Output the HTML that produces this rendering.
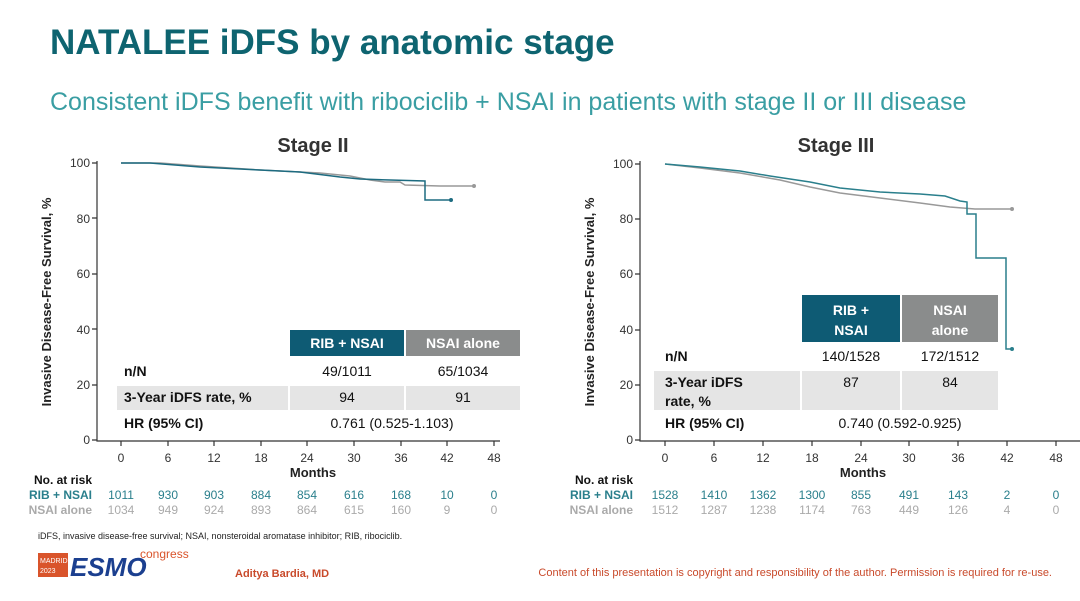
<!DOCTYPE html>
<html><head><meta charset="utf-8"><style>
body{margin:0;width:1080px;height:596px;background:#fff;overflow:hidden;font-family:"Liberation Sans",sans-serif}
</style></head><body>
<svg width="1080" height="596" xmlns="http://www.w3.org/2000/svg" font-family="Liberation Sans, sans-serif">
<text x="50" y="54" font-size="35" font-weight="bold" fill="#0e6470">NATALEE iDFS by anatomic stage</text>
<text x="50" y="110" font-size="25" fill="#3a9ea3">Consistent iDFS benefit with ribociclib + NSAI in patients with stage II or III disease</text>

<!-- LEFT -->
<text x="313" y="152" font-size="20" font-weight="bold" fill="#333" text-anchor="middle">Stage II</text>
<g stroke="#333" stroke-width="1.2" fill="none">
<path d="M97 161 V441 H500"/>
<path d="M92 163H97M92 218H97M92 274H97M92 329H97M92 385H97M92 440H97"/>
<path d="M121 441v5M168 441v5M214 441v5M261 441v5M307 441v5M354 441v5M401 441v5M447 441v5M494 441v5"/>
</g>
<g font-size="12" fill="#333" text-anchor="end">
<text x="90" y="167">100</text><text x="90" y="223">80</text><text x="90" y="278">60</text><text x="90" y="334">40</text><text x="90" y="389">20</text><text x="90" y="444">0</text>
</g>
<g font-size="12" fill="#333" text-anchor="middle">
<text x="121" y="462">0</text><text x="168" y="462">6</text><text x="214" y="462">12</text><text x="261" y="462">18</text><text x="307" y="462">24</text><text x="354" y="462">30</text><text x="401" y="462">36</text><text x="447" y="462">42</text><text x="494" y="462">48</text>
</g>
<text x="313" y="477" font-size="13" font-weight="bold" fill="#222" text-anchor="middle">Months</text>
<text transform="translate(51 302) rotate(-90)" font-size="13" font-weight="bold" fill="#222" text-anchor="middle">Invasive Disease-Free Survival, %</text>
<path d="M121 163 H160 L200 166 L260 170 L320 173 L350 176 L370 180 L385 182 L400 182 L405 185 L440 186 H474" stroke="#999" stroke-width="1.5" fill="none"/>
<path d="M121 163 H150 L200 167 L260 170 L300 172 L340 177 L360 179 L390 180 L425 181 V200 H451" stroke="#1d6b80" stroke-width="1.5" fill="none"/>
<circle cx="451" cy="200" r="2" fill="#1d6b80"/><circle cx="474" cy="186" r="2" fill="#999"/>
<rect x="290" y="330" width="114" height="26" fill="#0e5b74"/><rect x="406" y="330" width="114" height="26" fill="#8a8c8c"/>
<text x="347" y="348" font-size="14" font-weight="bold" fill="#fff" text-anchor="middle">RIB + NSAI</text>
<text x="463" y="348" font-size="14" font-weight="bold" fill="#fff" text-anchor="middle">NSAI alone</text>
<text x="124" y="376" font-size="14" font-weight="bold" fill="#111">n/N</text>
<text x="347" y="376" font-size="14" fill="#111" text-anchor="middle">49/1011</text>
<text x="463" y="376" font-size="14" fill="#111" text-anchor="middle">65/1034</text>
<rect x="117" y="386" width="171" height="24" fill="#e5e5e5"/><rect x="290" y="386" width="114" height="24" fill="#e5e5e5"/><rect x="406" y="386" width="114" height="24" fill="#e5e5e5"/>
<text x="124" y="402" font-size="14" font-weight="bold" fill="#111">3-Year iDFS rate, %</text>
<text x="347" y="402" font-size="14" fill="#111" text-anchor="middle">94</text>
<text x="463" y="402" font-size="14" fill="#111" text-anchor="middle">91</text>
<text x="124" y="428" font-size="14" font-weight="bold" fill="#111">HR (95% CI)</text>
<text x="392" y="428" font-size="14" fill="#111" text-anchor="middle">0.761 (0.525-1.103)</text>
<text x="92" y="484" font-size="12" font-weight="bold" fill="#111" text-anchor="end">No. at risk</text>
<text x="92" y="499" font-size="12" font-weight="bold" fill="#2a7f8c" text-anchor="end">RIB + NSAI</text>
<text x="92" y="514" font-size="12" font-weight="bold" fill="#aaa" text-anchor="end">NSAI alone</text>
<g font-size="12" fill="#2a7f8c" text-anchor="middle"><text x="121" y="499">1011</text><text x="168" y="499">930</text><text x="214" y="499">903</text><text x="261" y="499">884</text><text x="307" y="499">854</text><text x="354" y="499">616</text><text x="401" y="499">168</text><text x="447" y="499">10</text><text x="494" y="499">0</text></g>
<g font-size="12" fill="#aaa" text-anchor="middle"><text x="121" y="514">1034</text><text x="168" y="514">949</text><text x="214" y="514">924</text><text x="261" y="514">893</text><text x="307" y="514">864</text><text x="354" y="514">615</text><text x="401" y="514">160</text><text x="447" y="514">9</text><text x="494" y="514">0</text></g>

<!-- RIGHT -->
<text x="836" y="152" font-size="20" font-weight="bold" fill="#333" text-anchor="middle">Stage III</text>
<g stroke="#333" stroke-width="1.2" fill="none">
<path d="M640 161 V441 H1080"/>
<path d="M635 164H640M635 219H640M635 274H640M635 330H640M635 385H640M635 440H640"/>
<path d="M665 441v5M714 441v5M763 441v5M812 441v5M861 441v5M909 441v5M958 441v5M1007 441v5M1056 441v5"/>
</g>
<g font-size="12" fill="#333" text-anchor="end">
<text x="633" y="168">100</text><text x="633" y="223">80</text><text x="633" y="278">60</text><text x="633" y="334">40</text><text x="633" y="389">20</text><text x="633" y="444">0</text>
</g>
<g font-size="12" fill="#333" text-anchor="middle">
<text x="665" y="462">0</text><text x="714" y="462">6</text><text x="763" y="462">12</text><text x="812" y="462">18</text><text x="861" y="462">24</text><text x="909" y="462">30</text><text x="958" y="462">36</text><text x="1007" y="462">42</text><text x="1056" y="462">48</text>
</g>
<text x="863" y="477" font-size="13" font-weight="bold" fill="#222" text-anchor="middle">Months</text>
<text transform="translate(594 302) rotate(-90)" font-size="13" font-weight="bold" fill="#222" text-anchor="middle">Invasive Disease-Free Survival, %</text>
<path d="M665 164 L700 168 L740 173 L780 180 L810 187 L840 193 L880 198 L920 203 L950 207 L975 209 H1012" stroke="#999" stroke-width="1.5" fill="none"/>
<path d="M665 164 L700 167 L740 171 L770 176 L810 182 L840 188 L880 192 L920 194 L945 196 L960 201 L967 202 V214 H976 V258 H1006 V349 H1012" stroke="#2a7f8c" stroke-width="1.5" fill="none"/>
<circle cx="1012" cy="349" r="2" fill="#2a7f8c"/><circle cx="1012" cy="209" r="2" fill="#999"/>
<rect x="802" y="295" width="98" height="47" fill="#0e5b74"/><rect x="902" y="295" width="96" height="47" fill="#8a8c8c"/>
<text x="851" y="315" font-size="14" font-weight="bold" fill="#fff" text-anchor="middle">RIB +</text>
<text x="851" y="335" font-size="14" font-weight="bold" fill="#fff" text-anchor="middle">NSAI</text>
<text x="950" y="315" font-size="14" font-weight="bold" fill="#fff" text-anchor="middle">NSAI</text>
<text x="950" y="335" font-size="14" font-weight="bold" fill="#fff" text-anchor="middle">alone</text>
<text x="665" y="361" font-size="14" font-weight="bold" fill="#111">n/N</text>
<text x="851" y="361" font-size="14" fill="#111" text-anchor="middle">140/1528</text>
<text x="950" y="361" font-size="14" fill="#111" text-anchor="middle">172/1512</text>
<rect x="654" y="371" width="146" height="39" fill="#e5e5e5"/><rect x="802" y="371" width="98" height="39" fill="#e5e5e5"/><rect x="902" y="371" width="96" height="39" fill="#e5e5e5"/>
<text x="665" y="387" font-size="14" font-weight="bold" fill="#111">3-Year iDFS</text>
<text x="665" y="406" font-size="14" font-weight="bold" fill="#111">rate, %</text>
<text x="851" y="387" font-size="14" fill="#111" text-anchor="middle">87</text>
<text x="950" y="387" font-size="14" fill="#111" text-anchor="middle">84</text>
<text x="665" y="428" font-size="14" font-weight="bold" fill="#111">HR (95% CI)</text>
<text x="900" y="428" font-size="14" fill="#111" text-anchor="middle">0.740 (0.592-0.925)</text>
<text x="633" y="484" font-size="12" font-weight="bold" fill="#111" text-anchor="end">No. at risk</text>
<text x="633" y="499" font-size="12" font-weight="bold" fill="#2a7f8c" text-anchor="end">RIB + NSAI</text>
<text x="633" y="514" font-size="12" font-weight="bold" fill="#aaa" text-anchor="end">NSAI alone</text>
<g font-size="12" fill="#2a7f8c" text-anchor="middle"><text x="665" y="499">1528</text><text x="714" y="499">1410</text><text x="763" y="499">1362</text><text x="812" y="499">1300</text><text x="861" y="499">855</text><text x="909" y="499">491</text><text x="958" y="499">143</text><text x="1007" y="499">2</text><text x="1056" y="499">0</text></g>
<g font-size="12" fill="#aaa" text-anchor="middle"><text x="665" y="514">1512</text><text x="714" y="514">1287</text><text x="763" y="514">1238</text><text x="812" y="514">1174</text><text x="861" y="514">763</text><text x="909" y="514">449</text><text x="958" y="514">126</text><text x="1007" y="514">4</text><text x="1056" y="514">0</text></g>

<!-- footer -->
<text x="38" y="539" font-size="9" fill="#222">iDFS, invasive disease-free survival; NSAI, nonsteroidal aromatase inhibitor; RIB, ribociclib.</text>
<rect x="38" y="553" width="30" height="24" fill="#d9542b"/>
<text x="40" y="563" font-size="7" fill="#fff">MADRID</text><text x="40" y="573" font-size="7" fill="#fff">2023</text>
<text x="70" y="576" font-size="26" font-weight="bold" fill="#1b3f8f" font-style="italic">ESMO</text>
<text x="140" y="558" font-size="12" fill="#d9542b">congress</text>
<text x="235" y="577" font-size="11" font-weight="bold" fill="#c94a2b">Aditya Bardia, MD</text>
<text x="1052" y="576" font-size="11" fill="#c94a2b" text-anchor="end">Content of this presentation is copyright and responsibility of the author. Permission is required for re-use.</text>
</svg>
</body></html>
